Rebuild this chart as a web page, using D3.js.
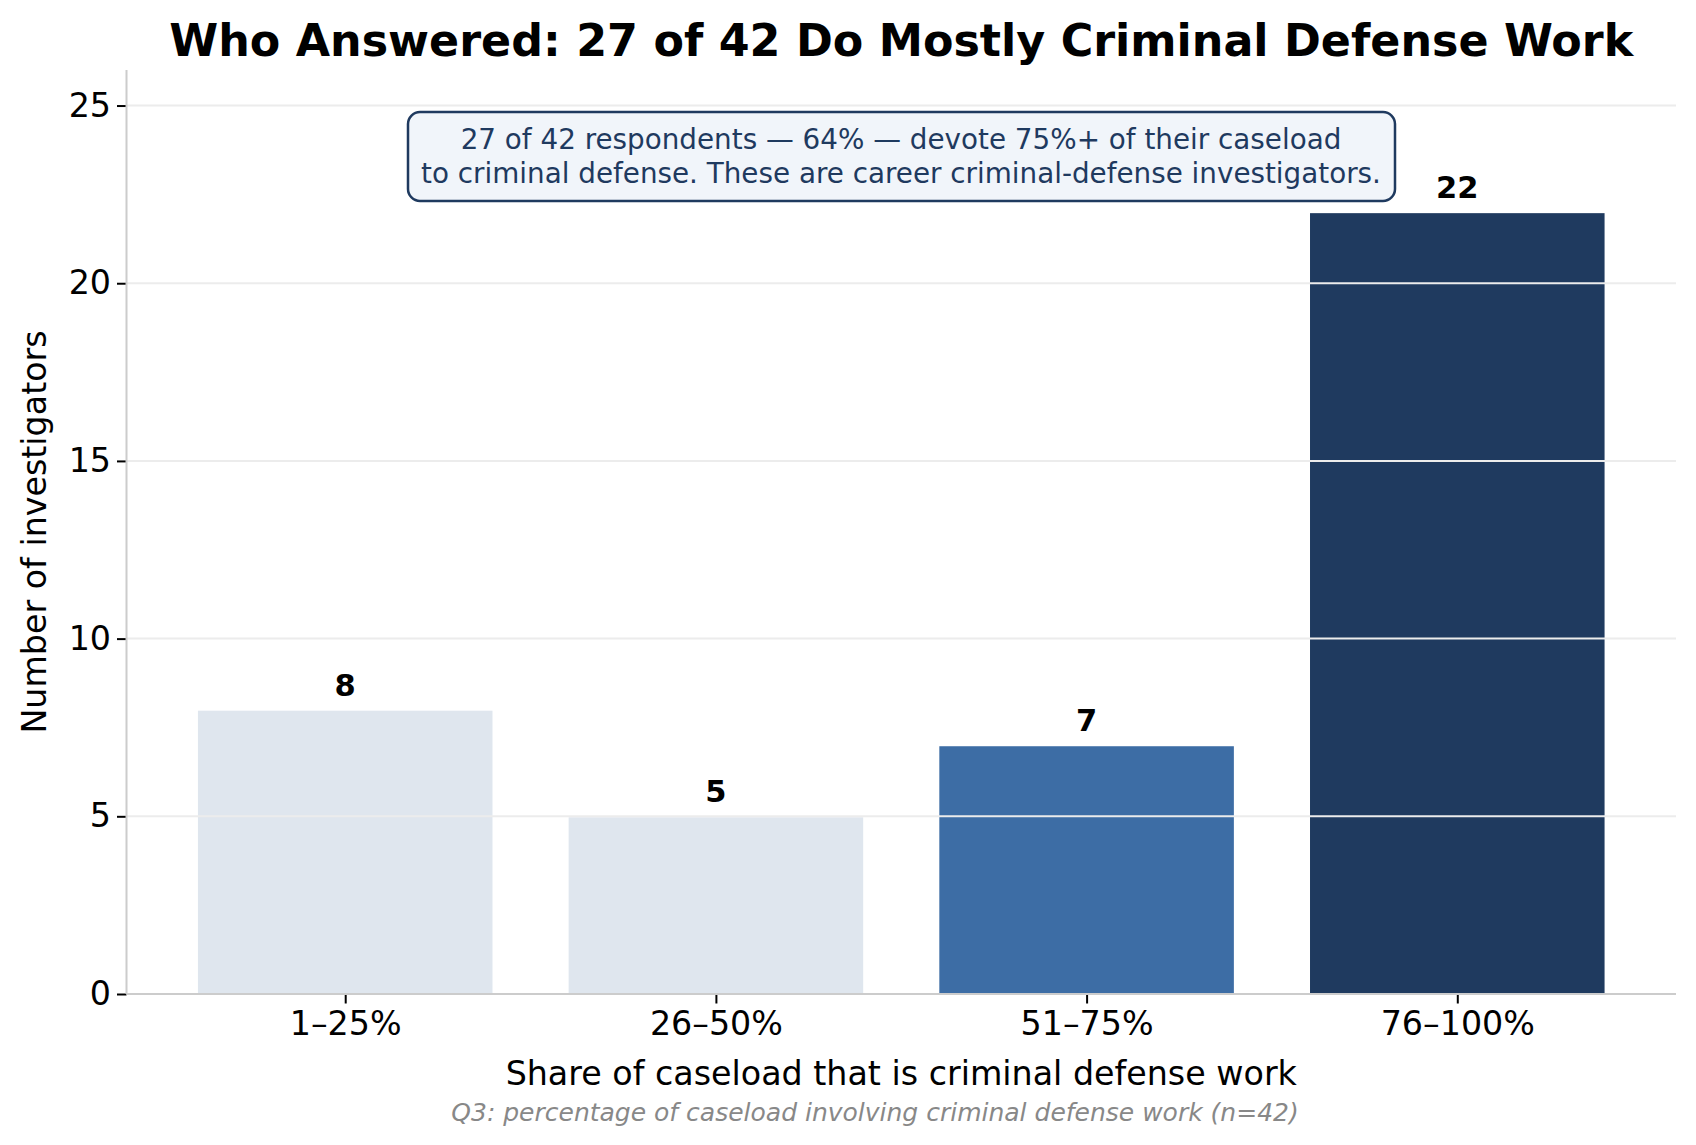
<!DOCTYPE html>
<html>
<head>
<meta charset="utf-8">
<title>Who Answered</title>
<script src="https://cdn.jsdelivr.net/npm/d3@7"></script>
<style>
  body { margin: 0; background: #fff; overflow: hidden; }
  svg { font-family: "DejaVu Sans", sans-serif; }
</style>
</head>
<body>
<script>
// data
var categories = ["1–25%", "26–50%", "51–75%", "76–100%"];
var counts = [8, 5, 7, 22];
var barColors = ["#dfe6ee", "#dfe6ee", "#3d6da5", "#1f3a5f"];
var yTicks = [0, 5, 10, 15, 20, 25];

var W = 1696, H = 1145;
var plotLeft = 126.5, plotRight = 1676, plotTop = 70, plotBottom = 994;

var svg = d3.select("body").append("svg")
    .attr("width", W)
    .attr("height", H);

// x: categorical positions with matplotlib-like margins
var x = d3.scaleLinear().domain([-0.59, 3.59]).range([plotLeft, plotRight]);
var y = d3.scaleLinear().domain([0, 26]).range([plotBottom, plotTop]);
var bw = 0.8;

// bars (thin white edge like the original)
svg.selectAll("rect.bar")
    .data(counts)
    .enter().append("rect")
    .attr("class", "bar")
    .attr("x", function(d, i) { return x(i - bw / 2); })
    .attr("width", x(bw) - x(0))
    .attr("y", function(d) { return y(d); })
    .attr("height", function(d) { return y(0) - y(d); })
    .attr("fill", function(d, i) { return barColors[i]; })
    .attr("stroke", "#ffffff")
    .attr("stroke-width", 2);

// grid on top of bars
svg.append("g")
    .selectAll("line")
    .data(yTicks.filter(function(t) { return t > 0; }))
    .enter().append("line")
    .attr("x1", plotLeft).attr("x2", plotRight)
    .attr("y1", function(d) { return y(d); })
    .attr("y2", function(d) { return y(d); })
    .attr("stroke", "#ececec")
    .attr("stroke-width", 2);

// y axis
var yAxis = svg.append("g")
    .attr("transform", "translate(" + plotLeft + ",0)")
    .call(d3.axisLeft(y).tickValues(yTicks).tickSize(9.5).tickPadding(6));
yAxis.select(".domain").remove();
yAxis.selectAll(".tick line").attr("stroke", "#000").attr("stroke-width", 2);
yAxis.selectAll(".tick text")
    .attr("font-size", "33.3px")
    .attr("font-family", "DejaVu Sans")
    .attr("fill", "#000");

// x axis
var xAxis = svg.append("g")
    .attr("transform", "translate(0," + plotBottom + ")")
    .call(d3.axisBottom(x).tickValues(d3.range(categories.length))
        .tickFormat(function(i) { return categories[i]; })
        .tickSize(9.5).tickPadding(8));
xAxis.select(".domain").remove();
xAxis.selectAll(".tick line").attr("stroke", "#000").attr("stroke-width", 2);
xAxis.selectAll(".tick text")
    .attr("font-size", "33.3px")
    .attr("font-family", "DejaVu Sans")
    .attr("fill", "#000");

// spines
svg.append("line")
    .attr("x1", plotLeft).attr("x2", plotLeft)
    .attr("y1", plotTop).attr("y2", plotBottom)
    .attr("stroke", "#cccccc").attr("stroke-width", 2);
svg.append("line")
    .attr("x1", plotLeft).attr("x2", plotRight)
    .attr("y1", plotBottom).attr("y2", plotBottom)
    .attr("stroke", "#cccccc").attr("stroke-width", 2);

// value labels
svg.selectAll("text.val")
    .data(counts)
    .enter().append("text")
    .attr("class", "val")
    .attr("x", function(d, i) { return x(i); })
    .attr("y", function(d) { return y(d) - 14; })
    .attr("text-anchor", "middle")
    .attr("font-size", "30.5px")
    .attr("font-weight", "bold")
    .attr("fill", "#000")
    .text(function(d) { return d; });

// title
svg.append("text")
    .attr("x", (plotLeft + plotRight) / 2)
    .attr("y", 56)
    .attr("text-anchor", "middle")
    .attr("font-size", "44.4px")
    .attr("font-weight", "bold")
    .text("Who Answered: 27 of 42 Do Mostly Criminal Defense Work");

// axis labels
svg.append("text")
    .attr("x", (plotLeft + plotRight) / 2)
    .attr("y", 1085)
    .attr("text-anchor", "middle")
    .attr("font-size", "33.3px")
    .text("Share of caseload that is criminal defense work");

svg.append("text")
    .attr("transform", "translate(46," + ((plotTop + plotBottom) / 2) + ") rotate(-90)")
    .attr("text-anchor", "middle")
    .attr("font-size", "33.3px")
    .text("Number of investigators");

// footnote
svg.append("text")
    .attr("x", 875)
    .attr("y", 1121)
    .attr("text-anchor", "middle")
    .attr("font-size", "25px")
    .attr("font-style", "italic")
    .attr("fill", "#888888")
    .text("Q3: percentage of caseload involving criminal defense work (n=42)");

// annotation box
var note = svg.append("g");
note.append("rect")
    .attr("x", 408).attr("y", 112)
    .attr("width", 987).attr("height", 89)
    .attr("rx", 12).attr("ry", 12)
    .attr("fill", "#f1f5fa")
    .attr("stroke", "#1f3a5f")
    .attr("stroke-width", 2.5);
var noteLines = [
    "27 of 42 respondents — 64% — devote 75%+ of their caseload",
    "to criminal defense. These are career criminal-defense investigators."
];
note.selectAll("text")
    .data(noteLines)
    .enter().append("text")
    .attr("x", 901)
    .attr("y", function(d, i) { return 149 + i * 33.5; })
    .attr("text-anchor", "middle")
    .attr("font-size", "27.8px")
    .attr("fill", "#1f3a5f")
    .text(function(d) { return d; });
</script>
</body>
</html>
